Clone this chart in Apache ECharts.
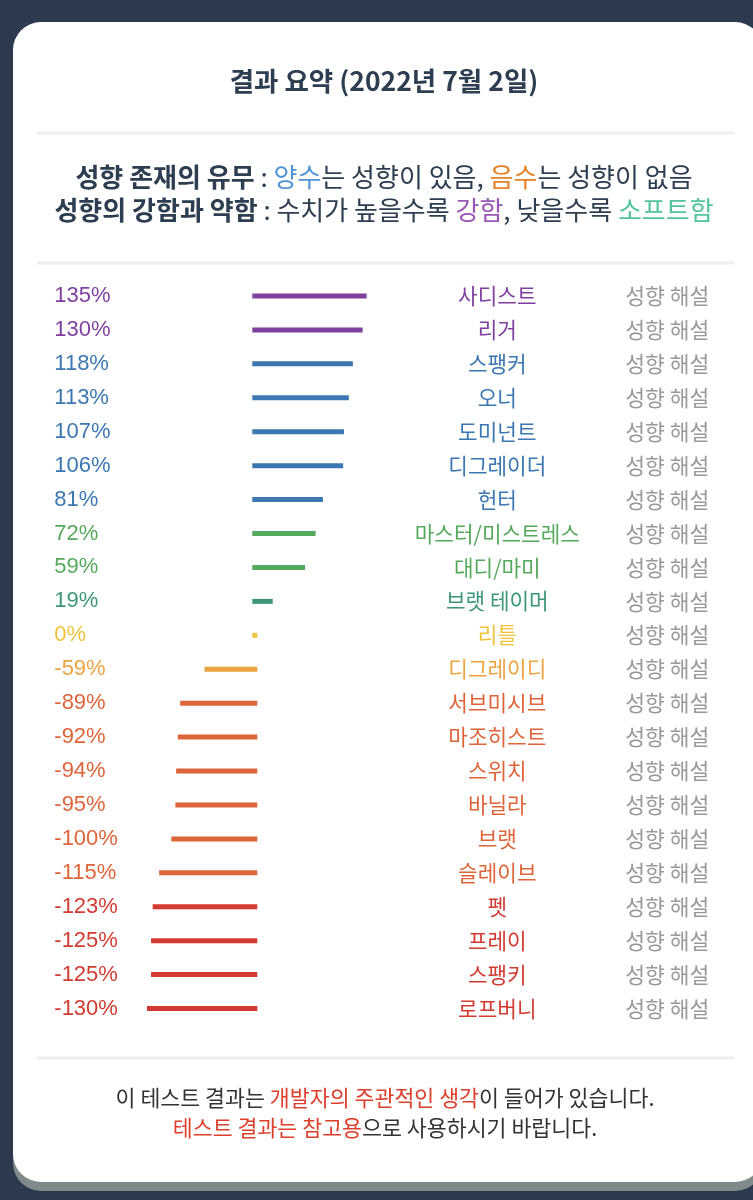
<!DOCTYPE html>
<html>
<head>
<meta charset="utf-8">
<script src="https://cdn.jsdelivr.net/npm/echarts@6/dist/echarts.min.js"></script>
<style>
  html, body { margin: 0; padding: 0; background: #2d3a4d; }
  #chart { width: 753px; height: 1200px; }
</style>
</head>
<body>
<div id="chart"></div>
<script>
// 성향 요약 데이터
var categories = [
  "사디스트", "리거", "스팽커", "오너", "도미넌트", "디그레이더", "헌터",
  "마스터/미스트레스", "대디/마미", "브랫 테이머", "리틀", "디그레이디",
  "서브미시브", "마조히스트", "스위치", "바닐라", "브랫", "슬레이브",
  "펫", "프레이", "스팽키", "로프버니"
];
var values = [
  135, 130, 118, 113, 107, 106, 81, 72, 59, 19, 0, -59,
  -89, -92, -94, -95, -100, -115, -123, -125, -125, -130
];
var descLabels = categories.map(function () { return "성향 해설"; });

// 색상 (행별)
var purple = "#7f3f9e", blue = "#3b77b0", green = "#55a95c", teal = "#3d957a",
    yellow = "#f0c23e", orange = "#eda33f", orangeRed = "#de643a", red = "#d23b32";
var rowColors = [
  purple, purple, blue, blue, blue, blue, blue, green, green, teal, yellow, orange,
  orangeRed, orangeRed, orangeRed, orangeRed, orangeRed, orangeRed, red, red, red, red
];

(function () {
  var myChart = echarts.init(document.getElementById("chart"));
  var font = '"Noto Sans CJK KR", "Noto Sans", sans-serif';
  var numFont = '"Liberation Sans", "Noto Sans CJK KR", sans-serif';
  var dark = "#2c3e50";

  function divider(y) {
    return {
      type: "rect",
      shape: { x: 37, y: y - 1.5, width: 697, height: 3 },
      style: { fill: "#eeeeee" },
      z: 1
    };
  }

  option = {
    backgroundColor: "#2d3a4d",
    textStyle: { fontFamily: font },
    graphic: [
      {
        type: "rect",
        shape: { x: 13, y: 31, width: 750, height: 1160, r: 28 },
        style: { fill: "#7f8b8b" },
        z: 0
      },
      {
        type: "rect",
        shape: { x: 13, y: 22, width: 750, height: 1160, r: 28 },
        style: { fill: "#ffffff" },
        z: 0
      },
      {
        type: "text",
        x: 384, y: 81,
        style: {
          text: "결과 요약 (2022년 7월 2일)",
          fill: dark, font: "bold 26.5px " + font,
          align: "center", verticalAlign: "middle"
        },
        z: 2
      },
      divider(133),
      {
        type: "text",
        x: 384, y: 177,
        style: {
          text: "{b|성향 존재의 유무} : {blue|양수}는 성향이 있음, {orange|음수}는 성향이 없음",
          fill: dark, font: "26px " + font,
          align: "center", verticalAlign: "middle",
          rich: {
            b: { fontWeight: "bold", fontSize: 26, fill: dark, fontFamily: font },
            blue: { fontSize: 26, fill: "#4f94d4", fontFamily: font },
            orange: { fontSize: 26, fill: "#e6832a", fontFamily: font }
          }
        },
        z: 2
      },
      {
        type: "text",
        x: 384, y: 210,
        style: {
          text: "{b|성향의 강함과 약함} : 수치가 높을수록 {purple|강함}, 낮을수록 {green|소프트함}",
          fill: dark, font: "26px " + font,
          align: "center", verticalAlign: "middle",
          rich: {
            b: { fontWeight: "bold", fontSize: 26, fill: dark, fontFamily: font },
            purple: { fontSize: 26, fill: "#9b59b6", fontFamily: font },
            green: { fontSize: 26, fill: "#52c39c", fontFamily: font }
          }
        },
        z: 2
      },
      divider(263),
      divider(1058),
      {
        type: "text",
        x: 385, y: 1098,
        style: {
          text: "이 테스트 결과는 {red|개발자의 주관적인 생각}이 들어가 있습니다.",
          fill: "#333333", font: "21.7px " + font,
          align: "center", verticalAlign: "middle",
          rich: { red: { fontSize: 21.7, fill: "#dc3f2c", fontFamily: font } }
        },
        z: 2
      },
      {
        type: "text",
        x: 385, y: 1128,
        style: {
          text: "{red|테스트 결과는 참고용}으로 사용하시기 바랍니다.",
          fill: "#333333", font: "21.7px " + font,
          align: "center", verticalAlign: "middle",
          rich: { red: { fontSize: 21.7, fill: "#dc3f2c", fontFamily: font } }
        },
        z: 2
      }
    ],
    grid: { left: 133.3, width: 243, top: 279, height: 746.5 },
    xAxis: {
      type: "value",
      min: -150,
      max: 150,
      show: false
    },
    yAxis: [
      {
        type: "category",
        data: categories,
        inverse: true,
        position: "left",
        axisLine: { show: false },
        axisTick: { show: false },
        axisLabel: {
          interval: 0,
          align: "left",
          margin: 79,
          fontSize: 22,
          fontFamily: numFont,
          formatter: function (val, idx) { return values[idx] + "%"; },
          color: function (val, idx) { return rowColors[idx]; }
        }
      },
      {
        type: "category",
        data: categories,
        inverse: true,
        position: "right",
        axisLine: { show: false },
        axisTick: { show: false },
        axisLabel: {
          interval: 0,
          align: "center",
          margin: 121,
          fontSize: 21.3,
          fontFamily: font,
          color: function (val, idx) { return rowColors[idx]; }
        }
      },
      {
        type: "category",
        data: descLabels,
        inverse: true,
        position: "right",
        axisLine: { show: false },
        axisTick: { show: false },
        axisLabel: {
          interval: 0,
          align: "center",
          margin: 291,
          fontSize: 21.5,
          fontFamily: font,
          color: "#999999"
        }
      }
    ],
    series: [
      {
        type: "custom",
        yAxisIndex: 0,
        data: values.map(function (v, i) { return [v, i]; }),
        encode: { x: 0, y: 1 },
        renderItem: function (params, api) {
          var v = api.value(0), i = api.value(1);
          var p0 = api.coord([0, i]);
          var p1 = api.coord([v, i]);
          var x0 = Math.min(p0[0], p1[0]) - 2.5;
          var x1 = Math.max(p0[0], p1[0]) + 2.5;
          return {
            type: "rect",
            shape: { x: x0, y: p0[1] - 2.5, width: x1 - x0, height: 5 },
            style: { fill: rowColors[i] }
          };
        }
      }
    ]
  };
  myChart.setOption(option);
  window.addEventListener("resize", function () {
    myChart.resize();
  });
})();
</script>
</body>
</html>
